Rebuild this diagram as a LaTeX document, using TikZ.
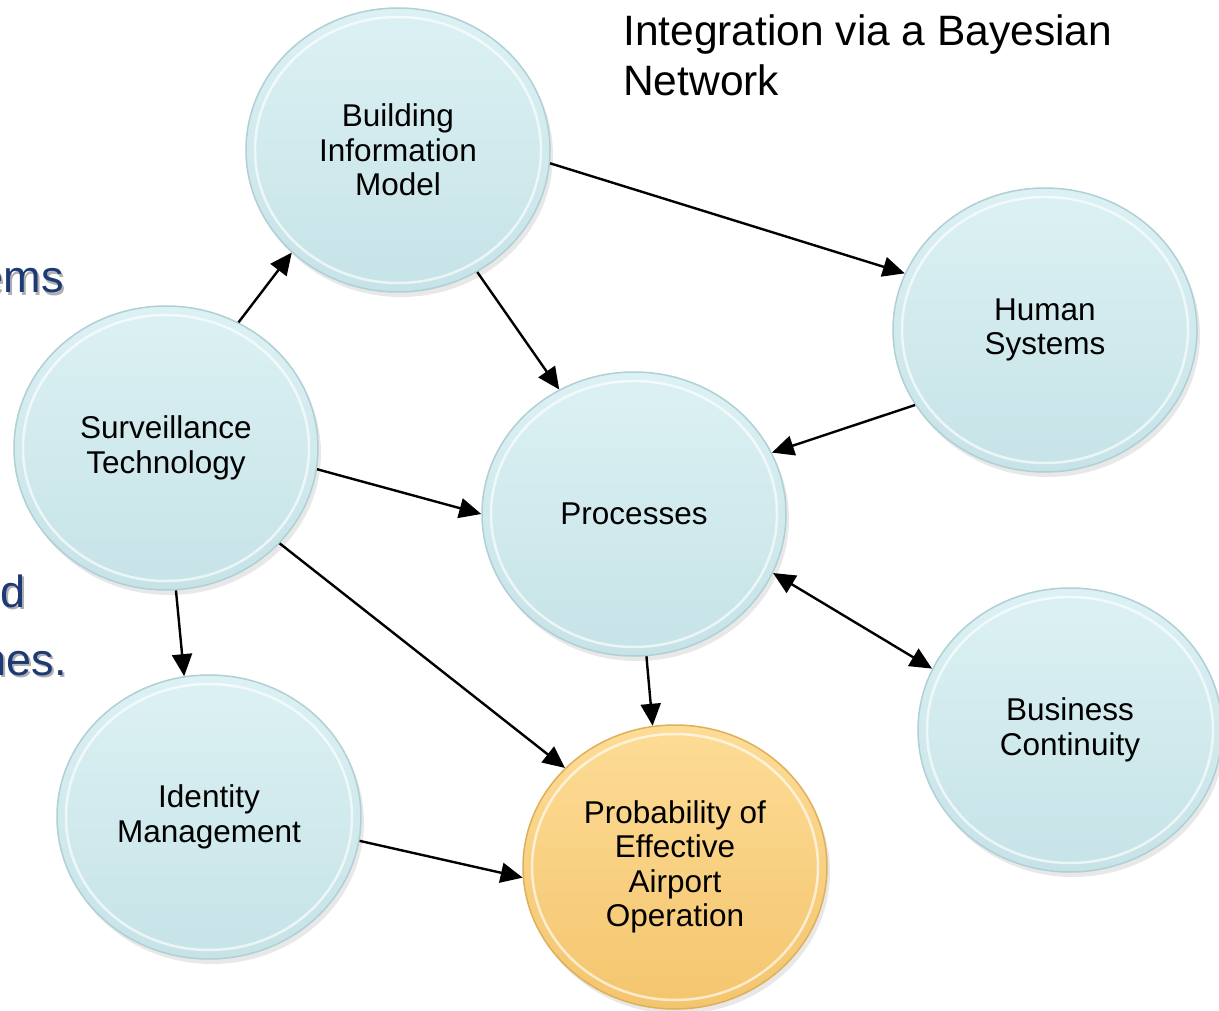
\documentclass[tikz,border=0pt]{standalone}
\usepackage{fontspec}
\setmainfont{Liberation Sans}
\usetikzlibrary{shapes.geometric,arrows.meta,shadows}
\definecolor{blueT}{RGB}{220,241,244}
\definecolor{blueB}{RGB}{198,227,231}
\definecolor{blueRim}{RGB}{176,208,213}
\definecolor{goldT}{RGB}{253,220,150}
\definecolor{goldB}{RGB}{244,197,110}
\definecolor{goldRim}{RGB}{222,176,92}
\definecolor{slideblue}{RGB}{28,58,115}
\definecolor{slideshadow}{RGB}{175,175,175}
\tikzset{
  bubble/.style={ellipse, minimum width=304pt, minimum height=284pt, inner sep=0pt,
    draw=blueRim, line width=1.5pt, top color=blueT, bottom color=blueB,
    drop shadow={opacity=0.18, shadow xshift=3pt, shadow yshift=-5pt},
    align=center, font=\fontsize{31.5}{34.5}\selectfont,
    path picture={\draw[white, opacity=0.65, line width=2.5pt]
      (path picture bounding box.center) ellipse [x radius=143, y radius=133];}},
  goldbubble/.style={bubble, draw=goldRim, top color=goldT, bottom color=goldB},
  arr/.style={line width=2.4pt, -{Triangle[length=22pt,width=20pt]}},
  arrboth/.style={line width=2.4pt, {Triangle[length=22pt,width=20pt]}-{Triangle[length=22pt,width=20pt]}},
  slidetext/.style={anchor=base east, inner sep=0pt, font=\fontsize{45}{52}\selectfont},
  titletext/.style={anchor=north west, inner sep=0pt, align=left, font=\fontsize{42.5}{50}\selectfont}
}
\begin{document}
\begin{tikzpicture}[x=1pt, y=-1pt]
\useasboundingbox (0,0) rectangle (1219,1011);
\clip (0,0) rectangle (1219,1011);
\fill[white] (0,0) rectangle (1219,1011);

% clipped slide text at left
\node[slidetext, text=slideshadow] (s1s) at (66,295) {ems};
\node[slidetext, text=slideblue] (s1) at (64,293) {ems};
\node[slidetext, text=slideshadow] (s2s) at (28,609) {d};
\node[slidetext, text=slideblue] (s2) at (26,607) {d};
\node[slidetext, text=slideshadow] (s3s) at (69,677) {nes.};
\node[slidetext, text=slideblue] (s3) at (67,675) {nes.};

% title
\node[titletext] (title) at (623,15) {Integration via a Bayesian\\Network};

% nodes
\node[bubble] (bim) at (398,150) {Building\\Information\\Model};
\node[bubble] (hum) at (1045,330) {Human\\Systems};
\node[bubble] (sur) at (166,448) {Surveillance\\Technology};
\node[bubble] (pro) at (634,514) {Processes};
\node[bubble] (bus) at (1070,730) {Business\\Continuity};
\node[bubble] (idm) at (209,817) {Identity\\Management};
\node[goldbubble] (pea) at (675,867) {Probability of\\Effective\\Airport\\Operation};

% connectors
\draw[arr] (sur.60) -- (bim.224);
\draw[arr] (bim.-5) -- (hum.158);
\draw[arr] (bim.-57) -- (pro.121);
\draw[arr] (hum.210) -- (pro.24);
\draw[arr] (sur.-8) -- (pro.180);
\draw[arrboth] (pro.-23) -- (bus.156);
\draw[arr] (pro.-85) -- (pea.99);
\draw[arr] (sur.-40) -- (pea.138);
\draw[arr] (sur.-86.5) -- (idm.100);
\draw[arr] (idm.-9) -- (pea.184);
\end{tikzpicture}
\end{document}
